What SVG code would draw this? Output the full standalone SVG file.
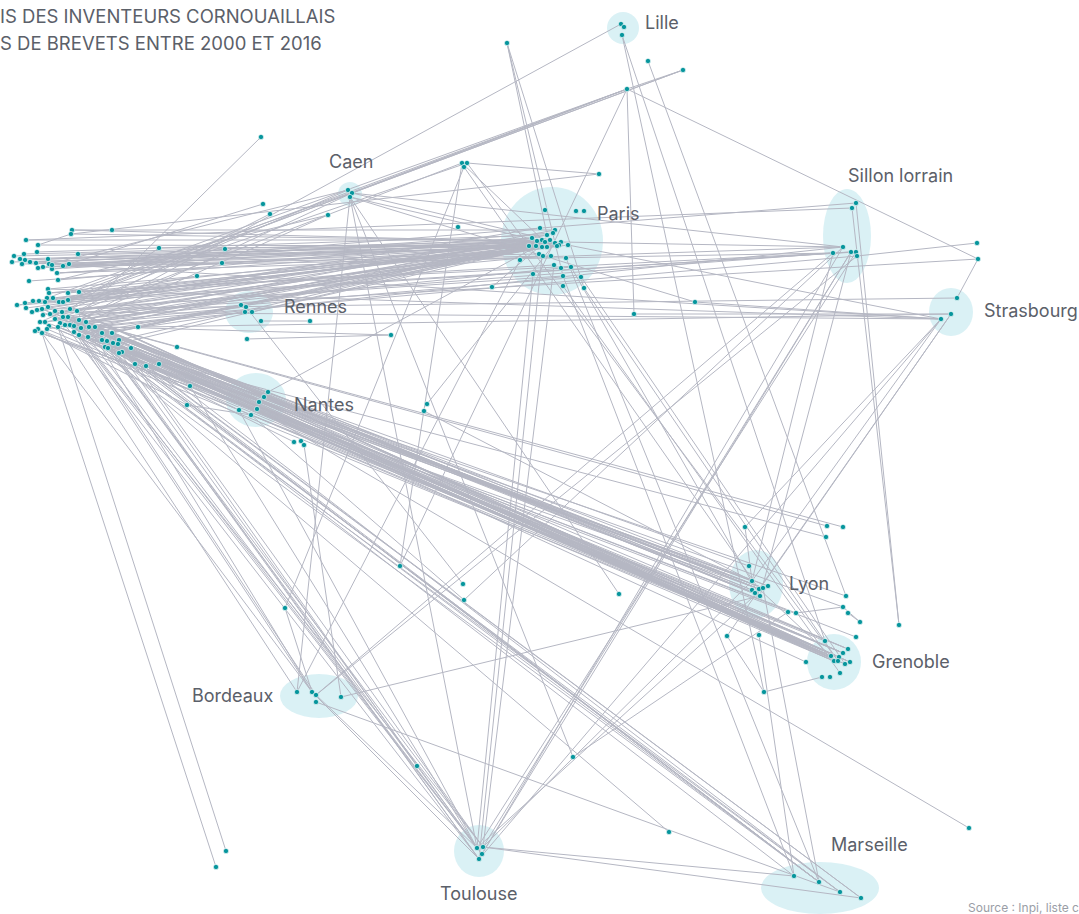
<svg xmlns="http://www.w3.org/2000/svg" width="1079" height="914" viewBox="0 0 1079 914">
<style>
.e{fill:none;stroke:#b5b7c3;stroke-width:1}
.h{fill:#c1e8ee;fill-opacity:0.6}
.d circle,circle.d{fill:#06959c;stroke:#fff;stroke-width:0.6}
.lb{font-family:Inter,"Liberation Sans",sans-serif;font-size:18px;fill:#5b6069}
.t{font-family:Inter,"Liberation Sans",sans-serif;font-size:18.5px;fill:#5b6069}
.s{font-family:Inter,"Liberation Sans",sans-serif;font-size:12px;fill:#9a9ea6}
</style>
<rect width="1079" height="914" fill="#fff"/>
<text class="t" x="0" y="23">IS DES INVENTEURS CORNOUAILLAIS</text>
<text class="t" x="0" y="50">S DE BREVETS ENTRE 2000 ET 2016</text>
<text class="s" x="968" y="912">Source : Inpi, liste c</text>
<g id="halos">
<circle class="h" cx="623" cy="28" r="16"/>
<circle class="h" cx="350" cy="194" r="12"/>
<ellipse class="h" cx="552" cy="241" rx="51" ry="54"/>
<ellipse class="h" cx="847" cy="236" rx="24" ry="47"/>
<ellipse class="h" cx="951" cy="312" rx="22" ry="24"/>
<ellipse class="h" cx="249" cy="312" rx="24" ry="21"/>
<ellipse class="h" cx="256" cy="400" rx="30" ry="27"/>
<ellipse class="h" cx="756" cy="584" rx="27" ry="34"/>
<ellipse class="h" cx="834" cy="662" rx="27" ry="28"/>
<ellipse class="h" cx="319" cy="696" rx="39" ry="22"/>
<ellipse class="h" cx="479" cy="851" rx="25" ry="26"/>
<ellipse class="h" cx="820" cy="888" rx="59" ry="26"/>
</g>
<g id="connectors">
<path class="e" d="M72 230L545 242M71 234L537 241M112 230L555 230M26 240L542 240M38 245L536 246M37 252L547 235M14 256L529 246M12 262L542 247M24 254L550 240M20 259L545 242M25 260L537 241M30 262L555 243M36 263L532 238M43 267L559 245M48 259L547 247M52 269L542 240M57 273L561 242M63 266L553 233M69 264L536 246M78 254L545 242M29 281L529 246M48 289L557 246M68 293L542 247M53 298L537 241M33 301L545 242M45 302L555 243M59 302L532 238M25 303L547 247M37 310L540 228M48 307L550 240M62 312L568 245M77 311L559 245M43 315L542 240M63 317L536 246M45 322L545 242M65 325L557 246M79 320L555 230M86 322L529 246M47 329L547 247M88 337L542 247M102 333L561 242M112 333L545 242M138 327L537 241M159 248L536 246M119 340L550 240M70 309L563 276M55 319L571 267M40 322L581 277M79 292L554 265M17 305L543 256M52 265L551 256M22 264L539 254M26 308L545 242M32 312L537 241M39 301L559 245M49 293L550 240M58 280L532 238M60 323L542 247M81 328L555 243M95 327L547 235M74 326L536 246M105 347L545 242M49 264L561 242M57 273L529 246"/>
<path class="e" d="M26 240L852 208M38 268L856 203M57 273L843 247M43 267L833 253M49 293L851 252M68 300L856 252M55 311L833 253M70 325L857 256M89 327L843 247M17 305L851 252M36 263L941 319M48 289L941 319M62 312L941 319M81 328L951 314M42 309L957 298M50 314L978 259M857 256L977 243M978 259L957 298M627 89L978 259M70 325L621 24M63 302L627 89M47 298L627 89M79 292L627 89M59 302L683 70M68 293L350 193M49 264L348 190M79 320L352 193M63 317L462 163M68 300L467 163M71 234L599 174M261 137L70 325M69 264L263 204M77 311L270 214M58 280L328 215M86 322L328 215M52 269L225 249M63 266L222 263M68 300L197 276M70 309L159 248M72 230L112 230M71 234L38 245M74 326L391 335M79 335L241 305M86 322L246 307M95 327L252 312M102 333L245 312"/>
<path class="e" d="M42 309L759 589M55 311L763 588M62 312L752 590M70 309L839 657M77 311L831 656M55 319L834 661M63 317L843 653M68 317L760 596M49 326L848 649M60 323L838 661M58 327L845 664M65 325L752 581M70 325L850 662M79 320L768 586M86 322L755 593M74 326L831 656M81 328L839 657M89 327L834 661M95 327L838 661M38 329L843 653M35 331L759 589M42 333L831 656M74 332L845 664M79 335L763 588M88 337L848 649M102 340L839 657M107 341L834 661M113 343L831 656M118 344L838 661M105 347L850 662M108 348L843 653M131 348L845 664M119 353L831 656M135 364L839 657M146 366L825 641M159 364L806 662M102 333L749 566M112 333L760 596M86 322L827 526M68 317L843 527M105 347L826 537M88 337L846 596M113 343L843 607M108 348L856 637M119 353L796 613M146 366L788 612M42 309L268 392M55 319L264 397M190 386L239 410M187 405L251 415M45 322L763 588M50 314L755 593M40 322L839 657M47 329L834 661M65 325L843 653M77 311L845 664M89 327L759 589M95 327L752 590M102 340L763 588M112 333L831 656M122 352L838 661M131 348L850 662M63 317L848 649M37 310L759 589M58 327L752 581M74 332L768 586"/>
<path class="e" d="M70 325L477 848M79 335L483 847M102 340L482 854M107 341L479 859M113 343L477 848M119 340L483 847M65 325L479 859M190 386L477 848M74 332L819 882M88 337L840 892M105 347L819 882M118 344L861 898M131 348L840 892M122 352L819 882M108 348L794 876M102 333L861 898M70 325L312 692M79 335L316 695M58 327L297 692M42 333L312 692M42 333L216 867M58 327L226 851M88 337L669 832M112 333L417 766M38 329L187 405M35 331L190 386M74 326L482 854M81 328L477 848M95 327L479 859M108 348L483 847M89 327L819 882M113 343L819 882M119 353L840 892M79 320L819 882M86 322L312 692"/>
<path class="e" d="M350 193L627 89M352 193L683 70M350 197L545 242M352 193L550 240M352 193L843 247M350 197L297 692M350 197L477 848M350 197L573 757M350 197L619 594M350 197L695 302M348 190L40 322M464 167L285 608M462 163L400 566M467 163L838 661M464 167L759 589M462 163L545 242M467 163L599 174M584 288L838 661M563 286L840 673M566 258L819 882M554 265L483 847M533 274L477 848M520 260L297 692M568 245L941 319M561 242L843 247M571 267L760 596M581 277L845 664M563 276L794 876M492 287L545 242M507 43L547 235M507 43L563 276M507 43L584 288M683 70L627 89M627 89L634 314M627 89L400 566M648 61L846 596M622 35L764 692M622 35L825 641M634 314L951 314M695 302L941 319M856 203L899 625M852 208L899 625M851 252L760 596M856 252L477 848M857 256L316 695M843 247L464 600M833 253L752 581M851 252L483 847M843 247L479 859M941 319L752 581M951 314L759 589M941 319L745 527M951 314L727 636M941 319L479 859M796 613L843 607M843 607L860 622M848 613L860 622M727 636L764 692M764 692L822 677M759 635L794 876M763 588L819 882M573 757L788 612M759 589L831 656M745 527L752 581M483 847L861 898M483 847L794 876M483 847L752 581M477 848L763 588M482 854L851 252M479 859L542 256M316 695L833 253M341 697L760 596M312 692L479 859M316 695L477 848M316 702L840 892M304 445L341 697M285 608L312 692M268 392L759 589M264 397L839 657M259 402L843 653M257 409L969 828M251 415L831 656M239 410L477 848M268 392L545 242M427 404L555 243M424 411L752 581M251 415L464 600M246 307L463 584M294 442L79 335M241 305L545 242M252 312L555 243M261 321L310 321M247 339L391 335"/>
</g>
<g id="cornouaille" class="d">
<circle cx="72" cy="230" r="2.6"/><circle cx="71" cy="234" r="2.6"/><circle cx="112" cy="230" r="2.6"/><circle cx="26" cy="240" r="2.6"/><circle cx="38" cy="245" r="2.6"/><circle cx="37" cy="252" r="2.6"/><circle cx="14" cy="256" r="2.6"/><circle cx="12" cy="262" r="2.6"/><circle cx="24" cy="254" r="2.6"/><circle cx="20" cy="259" r="2.6"/><circle cx="25" cy="260" r="2.6"/><circle cx="22" cy="264" r="2.6"/><circle cx="30" cy="262" r="2.6"/><circle cx="36" cy="263" r="2.6"/><circle cx="38" cy="268" r="2.6"/><circle cx="43" cy="267" r="2.6"/><circle cx="48" cy="259" r="2.6"/><circle cx="49" cy="264" r="2.6"/><circle cx="52" cy="269" r="2.6"/><circle cx="52" cy="265" r="2.6"/><circle cx="57" cy="273" r="2.6"/><circle cx="58" cy="280" r="2.6"/><circle cx="63" cy="266" r="2.6"/><circle cx="69" cy="264" r="2.6"/><circle cx="78" cy="254" r="2.6"/><circle cx="159" cy="248" r="2.6"/><circle cx="29" cy="281" r="2.6"/><circle cx="48" cy="289" r="2.6"/><circle cx="79" cy="292" r="2.6"/><circle cx="68" cy="293" r="2.6"/><circle cx="49" cy="293" r="2.6"/><circle cx="47" cy="298" r="2.6"/><circle cx="53" cy="298" r="2.6"/><circle cx="33" cy="301" r="2.6"/><circle cx="39" cy="301" r="2.6"/><circle cx="45" cy="302" r="2.6"/><circle cx="59" cy="302" r="2.6"/><circle cx="63" cy="302" r="2.6"/><circle cx="68" cy="300" r="2.6"/><circle cx="17" cy="305" r="2.6"/><circle cx="25" cy="303" r="2.6"/><circle cx="26" cy="308" r="2.6"/><circle cx="32" cy="312" r="2.6"/><circle cx="37" cy="310" r="2.6"/><circle cx="42" cy="309" r="2.6"/><circle cx="48" cy="307" r="2.6"/><circle cx="55" cy="311" r="2.6"/><circle cx="62" cy="312" r="2.6"/><circle cx="70" cy="309" r="2.6"/><circle cx="77" cy="311" r="2.6"/><circle cx="43" cy="315" r="2.6"/><circle cx="50" cy="314" r="2.6"/><circle cx="55" cy="319" r="2.6"/><circle cx="63" cy="317" r="2.6"/><circle cx="68" cy="317" r="2.6"/><circle cx="40" cy="322" r="2.6"/><circle cx="45" cy="322" r="2.6"/><circle cx="49" cy="326" r="2.6"/><circle cx="60" cy="323" r="2.6"/><circle cx="58" cy="327" r="2.6"/><circle cx="65" cy="325" r="2.6"/><circle cx="70" cy="325" r="2.6"/><circle cx="79" cy="320" r="2.6"/><circle cx="86" cy="322" r="2.6"/><circle cx="74" cy="326" r="2.6"/><circle cx="81" cy="328" r="2.6"/><circle cx="89" cy="327" r="2.6"/><circle cx="95" cy="327" r="2.6"/><circle cx="38" cy="329" r="2.6"/><circle cx="35" cy="331" r="2.6"/><circle cx="42" cy="333" r="2.6"/><circle cx="47" cy="329" r="2.6"/><circle cx="138" cy="327" r="2.6"/><circle cx="74" cy="332" r="2.6"/><circle cx="79" cy="335" r="2.6"/><circle cx="88" cy="337" r="2.6"/><circle cx="102" cy="333" r="2.6"/><circle cx="112" cy="333" r="2.6"/><circle cx="102" cy="340" r="2.6"/><circle cx="107" cy="341" r="2.6"/><circle cx="113" cy="343" r="2.6"/><circle cx="119" cy="340" r="2.6"/><circle cx="118" cy="344" r="2.6"/><circle cx="105" cy="347" r="2.6"/><circle cx="108" cy="348" r="2.6"/><circle cx="131" cy="348" r="2.6"/><circle cx="122" cy="352" r="2.6"/><circle cx="119" cy="353" r="2.6"/><circle cx="177" cy="347" r="2.6"/><circle cx="135" cy="364" r="2.6"/><circle cx="146" cy="366" r="2.6"/><circle cx="159" cy="364" r="2.6"/><circle cx="190" cy="386" r="2.6"/><circle cx="187" cy="405" r="2.6"/>
</g>
<g id="lille" class="d"><circle cx="621" cy="24" r="2.6"/><circle cx="624" cy="27" r="2.6"/><circle cx="622" cy="35" r="2.6"/><text class="lb" x="645" y="29" stroke="none">Lille</text></g>
<g id="caen" class="d"><circle cx="348" cy="190" r="2.6"/><circle cx="352" cy="193" r="2.6"/><circle cx="350" cy="197" r="2.6"/><text class="lb" x="329" y="168" stroke="none">Caen</text></g>
<g id="paris" class="d">
<circle cx="545" cy="210" r="2.6"/><circle cx="576" cy="211" r="2.6"/><circle cx="584" cy="211" r="2.6"/><circle cx="540" cy="228" r="2.6"/><circle cx="555" cy="230" r="2.6"/><circle cx="547" cy="235" r="2.6"/><circle cx="553" cy="233" r="2.6"/><circle cx="532" cy="238" r="2.6"/><circle cx="537" cy="241" r="2.6"/><circle cx="542" cy="240" r="2.6"/><circle cx="545" cy="242" r="2.6"/><circle cx="550" cy="240" r="2.6"/><circle cx="555" cy="243" r="2.6"/><circle cx="561" cy="242" r="2.6"/><circle cx="559" cy="245" r="2.6"/><circle cx="529" cy="246" r="2.6"/><circle cx="536" cy="246" r="2.6"/><circle cx="542" cy="247" r="2.6"/><circle cx="547" cy="247" r="2.6"/><circle cx="557" cy="246" r="2.6"/><circle cx="568" cy="245" r="2.6"/><circle cx="539" cy="254" r="2.6"/><circle cx="543" cy="256" r="2.6"/><circle cx="551" cy="256" r="2.6"/><circle cx="520" cy="260" r="2.6"/><circle cx="566" cy="258" r="2.6"/><circle cx="554" cy="265" r="2.6"/><circle cx="561" cy="268" r="2.6"/><circle cx="571" cy="267" r="2.6"/><circle cx="533" cy="274" r="2.6"/><circle cx="563" cy="276" r="2.6"/><circle cx="581" cy="277" r="2.6"/><circle cx="563" cy="286" r="2.6"/><circle cx="584" cy="288" r="2.6"/>
<text class="lb" x="597" y="220" stroke="none">Paris</text></g>
<g id="sillon-lorrain" class="d"><circle cx="856" cy="203" r="2.6"/><circle cx="852" cy="208" r="2.6"/><circle cx="843" cy="247" r="2.6"/><circle cx="833" cy="253" r="2.6"/><circle cx="851" cy="252" r="2.6"/><circle cx="856" cy="252" r="2.6"/><circle cx="857" cy="256" r="2.6"/><text class="lb" x="848" y="182" stroke="none">Sillon lorrain</text></g>
<g id="strasbourg" class="d"><circle cx="957" cy="298" r="2.6"/><circle cx="951" cy="314" r="2.6"/><circle cx="941" cy="319" r="2.6"/><text class="lb" x="984" y="317" stroke="none">Strasbourg</text></g>
<g id="rennes" class="d"><circle cx="241" cy="305" r="2.6"/><circle cx="246" cy="307" r="2.6"/><circle cx="252" cy="312" r="2.6"/><circle cx="245" cy="312" r="2.6"/><circle cx="261" cy="321" r="2.6"/><text class="lb" x="284" y="313" stroke="none">Rennes</text></g>
<g id="nantes" class="d"><circle cx="268" cy="392" r="2.6"/><circle cx="264" cy="397" r="2.6"/><circle cx="259" cy="402" r="2.6"/><circle cx="257" cy="409" r="2.6"/><circle cx="251" cy="415" r="2.6"/><circle cx="239" cy="410" r="2.6"/><text class="lb" x="294" y="411" stroke="none">Nantes</text></g>
<g id="lyon" class="d"><circle cx="749" cy="566" r="2.6"/><circle cx="752" cy="581" r="2.6"/><circle cx="752" cy="590" r="2.6"/><circle cx="759" cy="589" r="2.6"/><circle cx="763" cy="588" r="2.6"/><circle cx="768" cy="586" r="2.6"/><circle cx="755" cy="593" r="2.6"/><circle cx="760" cy="596" r="2.6"/><text class="lb" x="789" y="590" stroke="none">Lyon</text></g>
<g id="grenoble" class="d"><circle cx="825" cy="641" r="2.6"/><circle cx="848" cy="649" r="2.6"/><circle cx="843" cy="653" r="2.6"/><circle cx="831" cy="656" r="2.6"/><circle cx="839" cy="657" r="2.6"/><circle cx="834" cy="661" r="2.6"/><circle cx="838" cy="661" r="2.6"/><circle cx="850" cy="662" r="2.6"/><circle cx="845" cy="664" r="2.6"/><circle cx="806" cy="662" r="2.6"/><circle cx="840" cy="673" r="2.6"/><circle cx="822" cy="677" r="2.6"/><circle cx="830" cy="677" r="2.6"/><text class="lb" x="872" y="668" stroke="none">Grenoble</text></g>
<g id="bordeaux" class="d"><circle cx="297" cy="692" r="2.6"/><circle cx="312" cy="692" r="2.6"/><circle cx="316" cy="695" r="2.6"/><circle cx="316" cy="702" r="2.6"/><circle cx="341" cy="697" r="2.6"/><text class="lb" x="192" y="702" stroke="none">Bordeaux</text></g>
<g id="toulouse" class="d"><circle cx="477" cy="848" r="2.6"/><circle cx="483" cy="847" r="2.6"/><circle cx="482" cy="854" r="2.6"/><circle cx="479" cy="859" r="2.6"/><text class="lb" x="440" y="900" stroke="none">Toulouse</text></g>
<g id="marseille" class="d"><circle cx="794" cy="876" r="2.6"/><circle cx="819" cy="882" r="2.6"/><circle cx="840" cy="892" r="2.6"/><circle cx="861" cy="898" r="2.6"/><text class="lb" x="831" y="851" stroke="none">Marseille</text></g>
<g id="autres" class="d">
<circle cx="507" cy="43" r="2.6"/><circle cx="648" cy="61" r="2.6"/><circle cx="683" cy="70" r="2.6"/><circle cx="627" cy="89" r="2.6"/><circle cx="261" cy="137" r="2.6"/><circle cx="462" cy="163" r="2.6"/><circle cx="467" cy="163" r="2.6"/><circle cx="464" cy="167" r="2.6"/><circle cx="599" cy="174" r="2.6"/><circle cx="263" cy="204" r="2.6"/><circle cx="270" cy="214" r="2.6"/><circle cx="328" cy="215" r="2.6"/><circle cx="458" cy="227" r="2.6"/><circle cx="225" cy="249" r="2.6"/><circle cx="222" cy="263" r="2.6"/><circle cx="197" cy="276" r="2.6"/><circle cx="492" cy="287" r="2.6"/><circle cx="695" cy="302" r="2.6"/><circle cx="634" cy="314" r="2.6"/><circle cx="310" cy="321" r="2.6"/><circle cx="391" cy="335" r="2.6"/><circle cx="247" cy="339" r="2.6"/><circle cx="977" cy="243" r="2.6"/><circle cx="978" cy="259" r="2.6"/><circle cx="427" cy="404" r="2.6"/><circle cx="424" cy="411" r="2.6"/><circle cx="294" cy="442" r="2.6"/><circle cx="301" cy="441" r="2.6"/><circle cx="304" cy="445" r="2.6"/><circle cx="745" cy="527" r="2.6"/><circle cx="827" cy="526" r="2.6"/><circle cx="843" cy="527" r="2.6"/><circle cx="826" cy="537" r="2.6"/><circle cx="400" cy="566" r="2.6"/><circle cx="463" cy="584" r="2.6"/><circle cx="464" cy="600" r="2.6"/><circle cx="619" cy="594" r="2.6"/><circle cx="285" cy="608" r="2.6"/><circle cx="846" cy="596" r="2.6"/><circle cx="843" cy="607" r="2.6"/><circle cx="848" cy="613" r="2.6"/><circle cx="860" cy="622" r="2.6"/><circle cx="788" cy="612" r="2.6"/><circle cx="796" cy="613" r="2.6"/><circle cx="899" cy="625" r="2.6"/><circle cx="727" cy="636" r="2.6"/><circle cx="759" cy="635" r="2.6"/><circle cx="856" cy="637" r="2.6"/><circle cx="764" cy="692" r="2.6"/><circle cx="573" cy="757" r="2.6"/><circle cx="417" cy="766" r="2.6"/><circle cx="969" cy="828" r="2.6"/><circle cx="669" cy="832" r="2.6"/><circle cx="226" cy="851" r="2.6"/><circle cx="216" cy="867" r="2.6"/>
</g>
</svg>
